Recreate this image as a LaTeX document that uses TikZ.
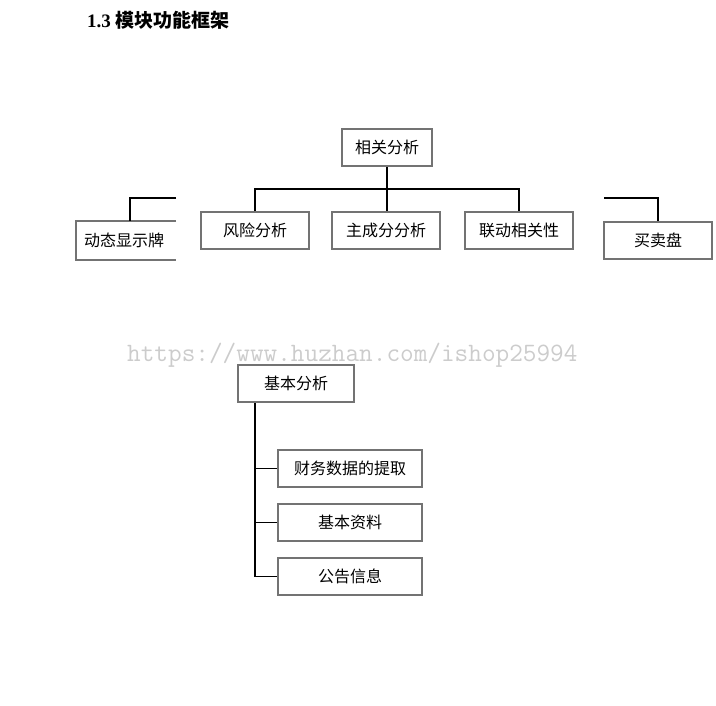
\documentclass[tikz,border=0pt]{standalone}
\usepackage{fontspec}
\newfontfamily\cjk{Noto Sans CJK SC}
\setmainfont{Liberation Serif}
\begin{document}
\begin{tikzpicture}[x=1pt,y=-1pt,
  box/.style={draw=gray!90!black,line width=1.8pt,minimum height=37pt,inner sep=0pt,font=\cjk\fontsize{16}{16}\selectfont},
  conn/.style={draw=black,line width=1.8pt}]
\useasboundingbox (0,0) rectangle (716,706);
\node[anchor=west,font=\bfseries\fontsize{19}{19}\selectfont,inner sep=0pt] (title) at (87,20) {1.3 {\cjk\bfseries 模块功能框架}};
\node[box,minimum width=90pt] (xg) at (387,147.5) {相关分析};
\node[box,minimum width=108pt] (fx) at (255,230.5) {风险分析};
\node[box,minimum width=108pt] (zc) at (386,230.5) {主成分分析};
\node[box,minimum width=108pt] (ld) at (519,230.5) {联动相关性};
\node[box,minimum width=108pt] (mm) at (658,240.5) {买卖盘};
\node[anchor=west,font=\cjk\fontsize{16}{16}\selectfont,inner sep=0pt] (dt) at (84,240.5) {动态显示牌};
\draw[draw=gray!90!black,line width=1.8pt] (176,221) -- (76,221) -- (76,260) -- (176,260);
\coordinate (dl) at (176,198);
\coordinate (dr) at (604,198);
\draw[conn] (dl) -| (130,221);
\draw[conn] (dr) -| (mm.north);
\draw[conn] (xg.south) -- (387,189);
\draw[conn] (fx.north) |- (387,189) -| (ld.north);
\draw[conn] (387,189) -- (387,211);
\node[box,minimum width=116pt] (jb) at (296,383.5) {基本分析};
\node[box,minimum width=144pt] (cw) at (350,468.5) {财务数据的提取};
\node[box,minimum width=144pt] (zl) at (350,522.5) {基本资料};
\node[box,minimum width=144pt] (gg) at (350,576.5) {公告信息};
\draw[conn] (255,403) -- (255,576.5) -- (gg.west);
\draw[conn] (255,468.5) -- (cw.west);
\draw[conn] (255,522.5) -- (zl.west);
\node[font=\ttfamily\fontsize{26.5}{26.5}\selectfont,text=gray!40,anchor=west,inner sep=0pt] (wm) at (127,355) {https://www.huzhan.com/ishop25994};
\end{tikzpicture}
\end{document}
